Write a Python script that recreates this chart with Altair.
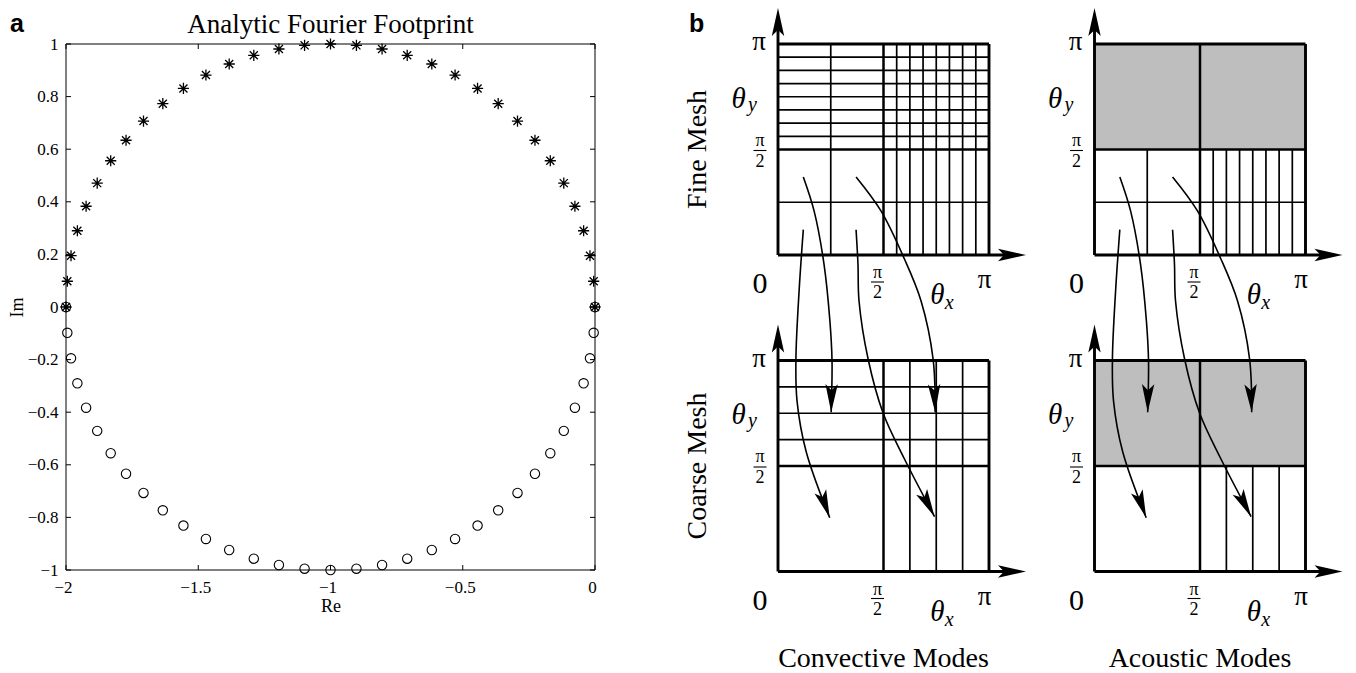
import math
import altair as alt
import pandas as pd

SERIF = "Liberation Serif"
SANS = "Liberation Sans"

# ---------------- panel a : analytic Fourier footprint ----------------
re_vals = [-2.0, -1.995, -1.981, -1.957, -1.924, -1.882, -1.831, -1.773, -1.707,
           -1.634, -1.556, -1.471, -1.383, -1.290, -1.195, -1.098, -1.0, -0.902,
           -0.805, -0.710, -0.617, -0.529, -0.444, -0.366, -0.293, -0.227, -0.169,
           -0.118, -0.076, -0.043, -0.019, -0.005, 0.0]
im_upper = [0.0, 0.098, 0.195, 0.290, 0.383, 0.471, 0.556, 0.634, 0.707, 0.773,
            0.831, 0.882, 0.924, 0.957, 0.981, 0.995, 1.0, 0.995, 0.981, 0.957,
            0.924, 0.882, 0.831, 0.773, 0.707, 0.634, 0.556, 0.471, 0.383, 0.290,
            0.195, 0.098, 0.0]
im_lower = [0.0, -0.098, -0.195, -0.290, -0.383, -0.471, -0.556, -0.634, -0.707,
            -0.773, -0.831, -0.882, -0.924, -0.957, -0.981, -0.995, -1.0, -0.995,
            -0.981, -0.957, -0.924, -0.882, -0.831, -0.773, -0.707, -0.634, -0.556,
            -0.471, -0.383, -0.290, -0.195, -0.098, 0.0]
x_ticks = [-2, -1.5, -1, -0.5, 0]
y_ticks = [-1, -0.8, -0.6, -0.4, -0.2, 0, 0.2, 0.4, 0.6, 0.8, 1]
title_a = "Analytic Fourier Footprint"

# ---------------- panel b : mesh diagrams (theta in units of pi) ----------------
quarter_lines = [0.25]
half_lines = [0.5]
fine_upper_lines = [0.5625, 0.625, 0.6875, 0.75, 0.8125, 0.875, 0.9375]
coarse_upper_lines = [0.625, 0.75, 0.875]
# mode-mapping arrows: fine-mesh point -> coarse-mesh point (coarse grid sits 1.5 below)
arrow_paths = [
    [(0.12, 0.12), (0.10, -0.17), (0.085, -0.49), (0.09, -0.69), (0.133, -0.93), (0.245, -1.245)],
    [(0.12, 0.37), (0.171, 0.209), (0.218, -0.043), (0.246, -0.313), (0.256, -0.50), (0.252, -0.745)],
    [(0.37, 0.12), (0.379, -0.043), (0.384, -0.218), (0.427, -0.493), (0.498, -0.749), (0.597, -0.962), (0.742, -1.24)],
    [(0.37, 0.37), (0.488, 0.209), (0.597, -0.014), (0.678, -0.218), (0.735, -0.493), (0.745, -0.745)],
]
column_titles = ["Convective Modes", "Acoustic Modes"]
row_titles = ["Fine Mesh", "Coarse Mesh"]

# =====================================================================
W_A, H_A = 529, 526
xs = alt.Scale(domain=[-2, 0], nice=False, zero=False)
ys = alt.Scale(domain=[-1, 1], nice=False, zero=False)

x_axis = alt.Axis(values=x_ticks, format="~g", title="Re", ticks=False, tickSize=0,
                  domain=False, grid=False, labelFlush=False, labelOverlap=False,
                  labelFont=SERIF, labelFontSize=17, labelColor="black", labelPadding=9,
                  labelOffset=-3,
                  titleFont=SERIF, titleFontSize=18, titleFontWeight="normal",
                  titleColor="black", titleY=36, titleBaseline="middle")
y_axis = alt.Axis(values=y_ticks, format="~g", title="Im", ticks=False, tickSize=0,
                  domain=False, grid=False, labelFlush=False, labelOverlap=False,
                  labelFont=SERIF, labelFontSize=17, labelColor="black", labelPadding=8,
                  titleFont=SERIF, titleFontSize=18, titleFontWeight="normal",
                  titleColor="black", titleX=-49, titleY=H_A / 2, titleAngle=270,
                  titleBaseline="middle", titleAlign="center")

upper = pd.DataFrame({"re": re_vals, "im": im_upper})
lower = pd.DataFrame({"re": re_vals, "im": im_lower})
xt = pd.DataFrame({"re": x_ticks})
yt = pd.DataFrame({"im": y_ticks})
one = pd.DataFrame({"t": [title_a]})

STAR = "M0,-1L0,1M-1,0L1,0M-0.72,-0.72L0.72,0.72M-0.72,0.72L0.72,-0.72"

enc_a = dict(x=alt.X("re:Q", scale=xs, axis=x_axis), y=alt.Y("im:Q", scale=ys, axis=y_axis))

frame = alt.Chart(one).mark_rect(filled=False, color="black", strokeWidth=1).encode(
    x=alt.value(0), x2=alt.value(W_A), y=alt.value(0), y2=alt.value(H_A))
stars = alt.Chart(upper).mark_point(shape=STAR, filled=False, size=125, color="black",
                                    strokeWidth=1.3, opacity=1).encode(**enc_a)
circles = alt.Chart(lower).mark_point(shape="circle", filled=False, size=88, color="black",
                                      strokeWidth=1.1, opacity=1).encode(**enc_a)
xt_bot = alt.Chart(xt).mark_rule(color="black", strokeWidth=1).encode(
    x=alt.X("re:Q", scale=xs, axis=x_axis), y=alt.value(H_A), y2=alt.value(H_A - 5))
xt_top = alt.Chart(xt).mark_rule(color="black", strokeWidth=1).encode(
    x=alt.X("re:Q", scale=xs, axis=x_axis), y=alt.value(0), y2=alt.value(5))
yt_left = alt.Chart(yt).mark_rule(color="black", strokeWidth=1).encode(
    y=alt.Y("im:Q", scale=ys, axis=y_axis), x=alt.value(0), x2=alt.value(5))
yt_right = alt.Chart(yt).mark_rule(color="black", strokeWidth=1).encode(
    y=alt.Y("im:Q", scale=ys, axis=y_axis), x=alt.value(W_A), x2=alt.value(W_A - 5))
title_txt = alt.Chart(one).mark_text(font=SERIF, fontSize=27, color="black", align="center",
                                     baseline="alphabetic").encode(
    text="t:N", x=alt.value(W_A / 2), y=alt.value(-11))
label_a = alt.Chart(pd.DataFrame({"t": ["a"]})).mark_text(
    font=SANS, fontSize=25, fontWeight="bold", color="black", align="left",
    baseline="alphabetic").encode(text="t:N", x=alt.value(-56), y=alt.value(-12))

panel_a = alt.layer(frame, stars, circles, xt_bot, xt_top, yt_left, yt_right,
                    title_txt, label_a).properties(width=W_A, height=H_A)

# =====================================================================
S = 211.0               # pixels per pi
W_B, H_B = 642, 526
X0 = (700 - 777) / S    # left edge of panel b plot area in diagram units
Y1 = (254 - 43) / S     # top edge
xsb = alt.Scale(domain=[X0, X0 + W_B / S], nice=False, zero=False)
ysb = alt.Scale(domain=[Y1 - H_B / S, Y1], nice=False, zero=False)

THIN, MID, THICK = 1.7, 2.5, 2.9
grids = [(0.0, 0.0, "fine", "conv"), (0.0, -1.5, "coarse", "conv"),
         (1.5, 0.0, "fine", "acou"), (1.5, -1.5, "coarse", "acou")]

segs = []
def seg(ox, oy, a, b, c, d, w):
    segs.append({"x": ox + a, "y": oy + b, "x2": ox + c, "y2": oy + d, "w": w})

shade = []
for ox, oy, res, kind in grids:
    upper_set = fine_upper_lines if res == "fine" else coarse_upper_lines
    if kind == "conv":
        inner = (quarter_lines if res == "fine" else []) + upper_set
        for v in inner:
            seg(ox, oy, v, 0, v, 1, THIN)
            seg(ox, oy, 0, v, 1, v, THIN)
    else:
        shade.append({"x": ox, "x2": ox + 1, "y": oy + 0.5, "y2": oy + 1})
        for v in upper_set:
            seg(ox, oy, v, 0, v, 0.5, THIN)
        if res == "fine":
            for v in quarter_lines:
                seg(ox, oy, v, 0, v, 0.5, THIN)
                seg(ox, oy, 0, v, 1, v, THIN)
    for v in half_lines:
        seg(ox, oy, v, 0, v, 1, MID)
        seg(ox, oy, 0, v, 1, v, MID)
    seg(ox, oy, 0, 1, 1, 1, THICK)
    seg(ox, oy, 1, 0, 1, 1, THICK)
    seg(ox, oy, 0, 0, 0, 1 + 22 / S, THICK)
    seg(ox, oy, 0, 0, 1 + 22 / S, 0, THICK)

heads = []
for ox, oy, res, kind in grids:
    heads.append({"x": ox, "y": oy + 1 + 36 / S, "a": 0})
    heads.append({"x": ox + 1 + 37 / S, "y": oy, "a": 90})

curves = []
for col, cx in enumerate([0.0, 1.5]):
    for k, path in enumerate(arrow_paths):
        for i, (px_, py_) in enumerate(path):
            curves.append({"x": cx + px_, "y": py_, "id": f"{col}-{k}", "i": i})
        (ax, ay), (bx, by) = path[-2], path[-1]
        ang = math.degrees(math.atan2(bx - ax, by - ay)) % 360
        heads.append({"x": cx + bx, "y": by, "a": ang})

up_txt, it_txt, rot_txt, bars = [], [], [], []
for ox, oy, res, kind in grids:
    up_txt += [
        {"t": "π", "x": ox - 19 / S, "y": oy + 1 - 6 / S, "s": 27},
        {"t": "π", "x": ox - 18 / S, "y": oy + 0.5 + 4 / S, "s": 18},
        {"t": "2", "x": ox - 18 / S, "y": oy + 0.5 - 17 / S, "s": 18},
        {"t": "0", "x": ox - 18 / S, "y": oy - 38 / S, "s": 30},
        {"t": "π", "x": ox + 0.5 - 6 / S, "y": oy - 23 / S, "s": 18},
        {"t": "2", "x": ox + 0.5 - 6 / S, "y": oy - 43 / S, "s": 18},
        {"t": "π", "x": ox + 1 - 4.5 / S, "y": oy - 33 / S, "s": 27},
    ]
    bars += [
        {"x": ox - 24.5 / S, "x2": ox - 11.5 / S, "y": oy + 0.5 - 1 / S},
        {"x": ox + 0.5 - 12.5 / S, "x2": ox + 0.5 + 0.5 / S, "y": oy - 27 / S},
    ]
    it_txt += [
        {"t": "θ", "x": ox - 39.5 / S, "y": oy + 0.75 - 11 / S, "s": 29},
        {"t": "y", "x": ox - 25.5 / S, "y": oy + 0.75 - 14 / S, "s": 20},
        {"t": "θ", "x": ox + 0.75 + 1 / S, "y": oy - 49 / S, "s": 29},
        {"t": "x", "x": ox + 0.75 + 13 / S, "y": oy - 54 / S, "s": 20},
    ]
for r, name in enumerate(row_titles):
    rot_txt.append({"t": name, "x": -80 / S, "y": 0.5 - 1.5 * r})
for c, name in enumerate(column_titles):
    up_txt.append({"t": name, "x": 0.5 + 1.5 * c, "y": -1.5 - 95 / S, "s": 28})

bx_ = alt.X("x:Q", scale=xsb, axis=None)
by_ = alt.Y("y:Q", scale=ysb, axis=None)

shade_l = alt.Chart(pd.DataFrame(shade)).mark_rect(color="#bebebe").encode(
    x=bx_, x2="x2:Q", y=by_, y2="y2:Q")
seg_l = alt.Chart(pd.DataFrame(segs)).mark_rule(color="black").encode(
    x=bx_, x2="x2:Q", y=by_, y2="y2:Q", strokeWidth=alt.StrokeWidth("w:Q", scale=None))
curve_l = alt.Chart(pd.DataFrame(curves)).mark_line(
    color="black", strokeWidth=1.6, interpolate="catmull-rom").encode(
    x=bx_, y=by_, detail="id:N", order="i:Q")
ARROW = "M0,0L0.62,2.8L0,2.2L-0.62,2.8Z"
head_l = alt.Chart(pd.DataFrame(heads)).mark_point(
    shape=ARROW, filled=True, size=400, color="black", opacity=1, strokeWidth=0).encode(
    x=bx_, y=by_, angle=alt.Angle("a:Q", scale=None))
bar_l = alt.Chart(pd.DataFrame(bars)).mark_rule(color="black", strokeWidth=1.1).encode(
    x=bx_, x2="x2:Q", y=by_)
up_l = alt.Chart(pd.DataFrame(up_txt)).mark_text(
    font=SERIF, color="black", align="center", baseline="alphabetic").encode(
    x=bx_, y=by_, text="t:N", size=alt.Size("s:Q", scale=None))
it_l = alt.Chart(pd.DataFrame(it_txt)).mark_text(
    font=SERIF, fontStyle="italic", color="black", align="center", baseline="alphabetic").encode(
    x=bx_, y=by_, text="t:N", size=alt.Size("s:Q", scale=None))
rot_l = alt.Chart(pd.DataFrame(rot_txt)).mark_text(
    font=SERIF, fontSize=28, color="black", align="center", baseline="middle", angle=270).encode(
    x=bx_, y=by_, text="t:N")
label_b = alt.Chart(pd.DataFrame({"t": ["b"], "x": [(688 - 777) / S], "y": [(254 - 31) / S]})).mark_text(
    font=SANS, fontSize=25, fontWeight="bold", color="black", align="left",
    baseline="alphabetic").encode(x=bx_, y=by_, text="t:N")

panel_b = alt.layer(shade_l, seg_l, curve_l, head_l, bar_l, up_l, it_l, rot_l,
                    label_b).properties(width=W_B, height=H_B)

chart = alt.hconcat(panel_a, panel_b, spacing=106, bounds="flush").properties(
    padding=0).configure_view(strokeWidth=0)

chart.save("out.html", embed_options={"renderer": "svg", "actions": False})
